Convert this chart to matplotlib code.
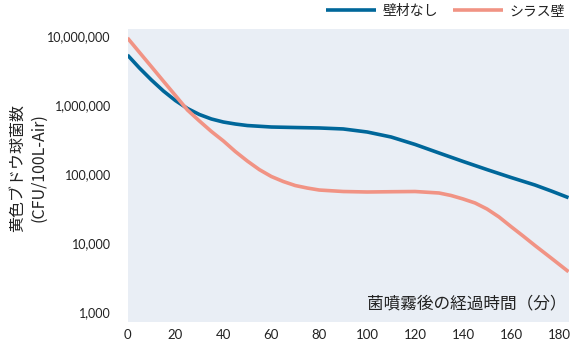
import matplotlib
matplotlib.use("Agg")
import matplotlib.pyplot as plt

blue_minutes = [0, 5, 10, 15, 20, 25, 30, 35, 40, 45, 50, 60, 70, 80, 90, 100, 110, 120,
                130, 140, 150, 160, 170, 177, 184]
no_wall = [5.25e6, 3.40e6, 2.28e6, 1.58e6, 1.15e6, 8.83e5, 7.22e5, 6.22e5, 5.62e5, 5.26e5,
           5.00e5, 4.76e5, 4.68e5, 4.61e5, 4.46e5, 4.03e5, 3.41e5, 2.66e5, 2.00e5, 1.51e5,
           1.15e5, 8.84e4, 6.88e4, 5.60e4, 4.51e4]
pink_minutes = [0, 5, 10, 15, 20, 25, 30, 35, 40, 45, 50, 55, 60, 65, 70, 75, 80, 90, 100,
                110, 120, 130, 135, 140, 145, 150, 155, 160, 165, 170, 177, 184]
shirasu = [9.27e6, 5.73e6, 3.55e6, 2.19e6, 1.36e6, 8.40e5, 5.82e5, 4.10e5, 2.99e5, 2.10e5,
           1.53e5, 1.15e5, 9.14e4, 7.73e4, 6.76e4, 6.22e4, 5.82e4, 5.54e4, 5.45e4, 5.50e4,
           5.54e4, 5.27e4, 4.85e4, 4.32e4, 3.78e4, 3.09e4, 2.37e4, 1.72e4, 1.26e4, 9.15e3,
           5.93e3, 3.82e3]
series_names = ["壁材なし", "シラス壁"]
x_ticks = [0, 20, 40, 60, 80, 100, 120, 140, 160, 180]
y_ticks = [1e3, 1e4, 1e5, 1e6, 1e7]
y_ticklabels = ["1,000", "10,000", "100,000", "1,000,000", "10,000,000"]

plt.rcParams['font.family'] = ['Noto Sans CJK JP', 'DejaVu Sans']

fig = plt.figure(figsize=(5.79, 3.47), dpi=100)
ax = fig.add_axes([127.5/579, (347-321.7)/347, 441.5/579, 292.7/347])
ax.set_facecolor('#e9eef5')

ax.plot(blue_minutes, no_wall, color='#00679a', lw=2.6, label=series_names[0],
        solid_capstyle='butt', solid_joinstyle='round')
ax.plot(pink_minutes, shirasu, color='#f19384', lw=2.6, label=series_names[1],
        solid_capstyle='butt', solid_joinstyle='round')

ax.set_yscale('log')
ax.set_xlim(0, 184.2)
ax.set_ylim(10**2.858, 10**7.097)
ax.set_xticks(x_ticks)
ax.set_xticklabels([str(t) for t in x_ticks], family='Lato', fontsize=9.5, color='#222222')
ax.set_yticks(y_ticks)
ax.set_yticklabels(y_ticklabels, family='Lato', fontsize=9, color='#222222')
ax.minorticks_off()
ax.tick_params(axis='both', length=0)
ax.tick_params(axis='x', pad=5)
ax.tick_params(axis='y', pad=12)
for s in ax.spines.values():
    s.set_visible(False)

ax.text(0.995, 0.062, "菌噴霧後の経過時間（分）", transform=ax.transAxes,
        ha='right', va='center', fontsize=12, color='#222222')

fig.text(28/579, 1 - 168/347, "黄色ブドウ球菌数\n(CFU/100L-Air)", rotation=90,
         ha='center', va='center', fontsize=11.5, color='#222222', linespacing=1.35)

fig.legend(loc='center right', bbox_to_anchor=(565/579, 1 - 11/347), ncol=2, frameon=False,
           fontsize=10, handlelength=3.6, columnspacing=1.1, handletextpad=0.45,
           borderpad=0, borderaxespad=0, labelcolor='#222222')

fig.savefig('out.png', dpi=100)
